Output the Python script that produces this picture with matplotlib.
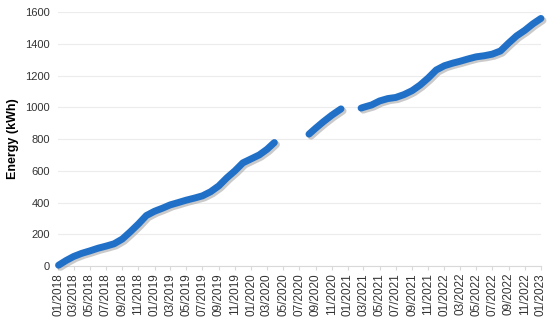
import numpy as np
import pandas as pd
import matplotlib
matplotlib.use("Agg")
import matplotlib.pyplot as plt
import matplotlib.patheffects as pe

plt.rcParams['font.family'] = ['Liberation Sans', 'DejaVu Sans']

dates_a = ["2018-01-03", "2018-02-01", "2018-03-01", "2018-04-01", "2018-05-01", "2018-06-01",
           "2018-07-01", "2018-08-01", "2018-09-01", "2018-10-01", "2018-11-01", "2018-12-01",
           "2019-01-01", "2019-02-01", "2019-03-01", "2019-04-01", "2019-05-01", "2019-06-01",
           "2019-07-01", "2019-08-01", "2019-09-01", "2019-10-01", "2019-11-01", "2019-12-01",
           "2020-01-01", "2020-02-01", "2020-03-01", "2020-03-29"]
energy_a = [5, 35, 60, 80, 95, 112, 125, 140, 170, 215, 265, 318,
            345, 365, 385, 400, 415, 428, 442, 468, 505, 555, 600, 650,
            675, 700, 735, 778]

dates_b = ["2020-08-07", "2020-09-01", "2020-10-01", "2020-11-01", "2020-12-06"]
energy_b = [831, 868, 910, 950, 990]

dates_c = ["2021-02-20", "2021-03-01", "2021-04-01", "2021-05-01", "2021-06-01", "2021-07-01",
           "2021-08-01", "2021-09-01", "2021-10-01", "2021-11-01", "2021-12-01",
           "2022-01-01", "2022-02-01", "2022-03-01", "2022-04-01", "2022-05-01", "2022-06-01",
           "2022-07-01", "2022-08-01", "2022-09-01", "2022-10-01", "2022-11-01", "2022-12-01",
           "2023-01-01"]
energy_c = [995, 1000, 1015, 1040, 1055, 1062, 1080, 1105, 1140, 1185, 1235,
            1262, 1278, 1290, 1305, 1318, 1325, 1335, 1355, 1405, 1450, 1485, 1525,
            1560]

fig = plt.figure(figsize=(5.5, 3.18), dpi=100)
ax = fig.add_axes([0.1055, 0.1635, 0.878, 0.7985])

blue = "#2170c8"
shadow = [pe.SimpleLineShadow(offset=(1.5, -1.5), shadow_color="#a8a8a8", alpha=0.6),
          pe.Normal()]
for d, v in [(dates_a, energy_a), (dates_b, energy_b), (dates_c, energy_c)]:
    ax.plot(pd.to_datetime(d), v, color=blue, lw=5, solid_capstyle="round",
            solid_joinstyle="round", path_effects=shadow, clip_on=False, zorder=3)

ax.set_ylim(0, 1600)
ax.set_yticks(np.arange(0, 1601, 200))
ax.set_xlim(pd.Timestamp("2018-01-01"), pd.Timestamp("2023-01-01"))
ticks = pd.date_range("2018-01-01", "2023-01-01", freq="2MS")
ax.set_xticks(ticks)
ax.set_xticklabels([t.strftime("%m/%Y") for t in ticks], rotation=90)

ax.grid(axis="y", color="#ececec", lw=0.8)
ax.set_axisbelow(True)
for s in ["top", "right", "left"]:
    ax.spines[s].set_visible(False)
ax.spines["bottom"].set_color("#d9d9d9")
ax.tick_params(axis="y", length=0, labelsize=8, colors="#333333", pad=6)
ax.tick_params(axis="x", length=3, color="#d9d9d9", labelsize=8.5, colors="#333333", pad=2)
ax.set_ylabel("Energy (kWh)", fontsize=9, fontweight="bold", labelpad=4)

fig.savefig("out.png", dpi=100)
